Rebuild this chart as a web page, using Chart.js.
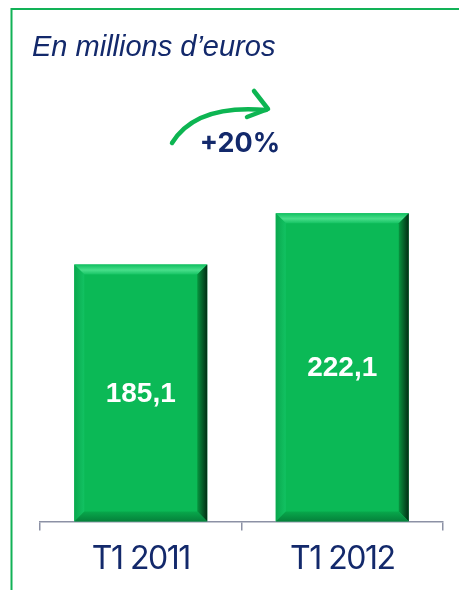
<!DOCTYPE html>
<html>
<head>
<meta charset="utf-8">
<script src="https://cdn.jsdelivr.net/npm/chart.js@4.4.1/dist/chart.umd.min.js"></script>
<style>
    html, body { margin: 0; padding: 0; background: #fff; }
    #wrap { position: relative; width: 459px; height: 590px; }
</style>
</head>
<body>
<div id="wrap"><canvas id="revenueChart" width="459" height="590"></canvas></div>
<script>
// Chart data
const categories = ['T1 2011', 'T1 2012'];
const revenue = [185.1, 222.1];
const unitLabel = 'En millions d\u2019euros';
const growthLabel = '+20%';

const NAVY = '#13296b';
const GREEN = '#0bb956';
const FRAME_GREEN = '#12b257';

function formatFr(v) {
    return v.toFixed(1).replace('.', ',');
}

// Frame, title and growth arrow
const decorPlugin = {
    id: 'decor',
    beforeDraw(chart) {
        const ctx = chart.ctx;
        ctx.save();
        ctx.strokeStyle = FRAME_GREEN;
        ctx.lineWidth = 2;
        ctx.beginPath();
        ctx.moveTo(459, 9);
        ctx.lineTo(11.5, 9);
        ctx.lineTo(11.5, 590);
        ctx.stroke();

        ctx.fillStyle = NAVY;
        ctx.font = 'italic 29px "Liberation Sans", Arial, sans-serif';
        ctx.textBaseline = 'alphabetic';
        ctx.fillText(unitLabel, 32, 56);

        // growth arrow
        ctx.strokeStyle = '#0db552';
        ctx.lineWidth = 4.5;
        ctx.lineCap = 'round';
        ctx.lineJoin = 'round';
        ctx.beginPath();
        ctx.moveTo(172, 143);
        ctx.quadraticCurveTo(196, 104, 266, 110);
        ctx.stroke();
        ctx.beginPath();
        ctx.moveTo(254, 91);
        ctx.lineTo(268, 109);
        ctx.lineTo(247, 117);
        ctx.stroke();

        ctx.fillStyle = NAVY;
        ctx.font = 'bold 27px Inter, "Liberation Sans", sans-serif';
        ctx.textAlign = 'center';
        ctx.fillText(growthLabel, 240, 152);
        ctx.restore();
        // tighter spacing for the category labels drawn next
        ctx.letterSpacing = '-1.5px';
    },
    beforeDatasetsDraw(chart) {
        chart.ctx.letterSpacing = '0px';
    }
};

// Bevel edges and value labels on the bars
const bevelPlugin = {
    id: 'bevel',
    afterDatasetsDraw(chart) {
        const ctx = chart.ctx;
        const meta = chart.getDatasetMeta(0);
        meta.data.forEach((bar, i) => {
            const p = bar.getProps(['x', 'y', 'base', 'width'], true);
            const l = p.x - p.width / 2, r = p.x + p.width / 2;
            const t = p.y, b = p.base, e = 10;
            ctx.save();

            let g = ctx.createLinearGradient(0, t, 0, t + e);
            g.addColorStop(0, '#10c060');
            g.addColorStop(0.55, '#48de8a');
            g.addColorStop(1, '#16c464');
            ctx.fillStyle = g;
            ctx.beginPath();
            ctx.moveTo(l, t); ctx.lineTo(r, t); ctx.lineTo(r - e, t + e); ctx.lineTo(l + e, t + e);
            ctx.closePath(); ctx.fill();

            g = ctx.createLinearGradient(r - e, 0, r, 0);
            g.addColorStop(0, '#07953f');
            g.addColorStop(1, '#022c14');
            ctx.fillStyle = g;
            ctx.beginPath();
            ctx.moveTo(r, t); ctx.lineTo(r, b); ctx.lineTo(r - e, b - e); ctx.lineTo(r - e, t + e);
            ctx.closePath(); ctx.fill();

            g = ctx.createLinearGradient(l, 0, l + e, 0);
            g.addColorStop(0, '#0aa84e');
            g.addColorStop(1, '#12c262');
            ctx.fillStyle = g;
            ctx.beginPath();
            ctx.moveTo(l, t); ctx.lineTo(l + e, t + e); ctx.lineTo(l + e, b - e); ctx.lineTo(l, b);
            ctx.closePath(); ctx.fill();

            g = ctx.createLinearGradient(0, b - e, 0, b);
            g.addColorStop(0, '#08a84b');
            g.addColorStop(1, '#05803a');
            ctx.fillStyle = g;
            ctx.beginPath();
            ctx.moveTo(l, b); ctx.lineTo(l + e, b - e); ctx.lineTo(r - e, b - e); ctx.lineTo(r, b);
            ctx.closePath(); ctx.fill();

            ctx.fillStyle = '#ffffff';
            ctx.font = 'bold 28px "Liberation Sans", Arial, sans-serif';
            ctx.textAlign = 'center';
            ctx.textBaseline = 'middle';
            ctx.fillText(formatFr(revenue[i]), p.x, (t + b) / 2 + 1);
            ctx.restore();
        });
    }
};

const ctx = document.getElementById('revenueChart').getContext('2d');
new Chart(ctx, {
    type: 'bar',
    data: {
        labels: categories,
        datasets: [{
            data: revenue,
            backgroundColor: GREEN,
            borderWidth: 0,
            barPercentage: 0.66,
            categoryPercentage: 1
        }]
    },
    options: {
        responsive: false,
        animation: false,
        layout: { padding: { top: 105, left: 40, right: 16, bottom: 1 } },
        plugins: {
            legend: { display: false },
            tooltip: { enabled: false }
        },
        scales: {
            y: {
                display: false,
                min: 0,
                max: 300
            },
            x: {
                border: { display: true, color: '#8c91a5', width: 1.5 },
                grid: {
                    offset: true,
                    drawOnChartArea: false,
                    drawTicks: true,
                    tickLength: 9,
                    color: '#8c91a5',
                    lineWidth: 1.5
                },
                ticks: {
                    color: NAVY,
                    padding: 10,
                    font: { family: 'Inter, "Liberation Sans", sans-serif', size: 32 }
                }
            }
        }
    },
    plugins: [decorPlugin, bevelPlugin]
});
</script>
</body>
</html>
